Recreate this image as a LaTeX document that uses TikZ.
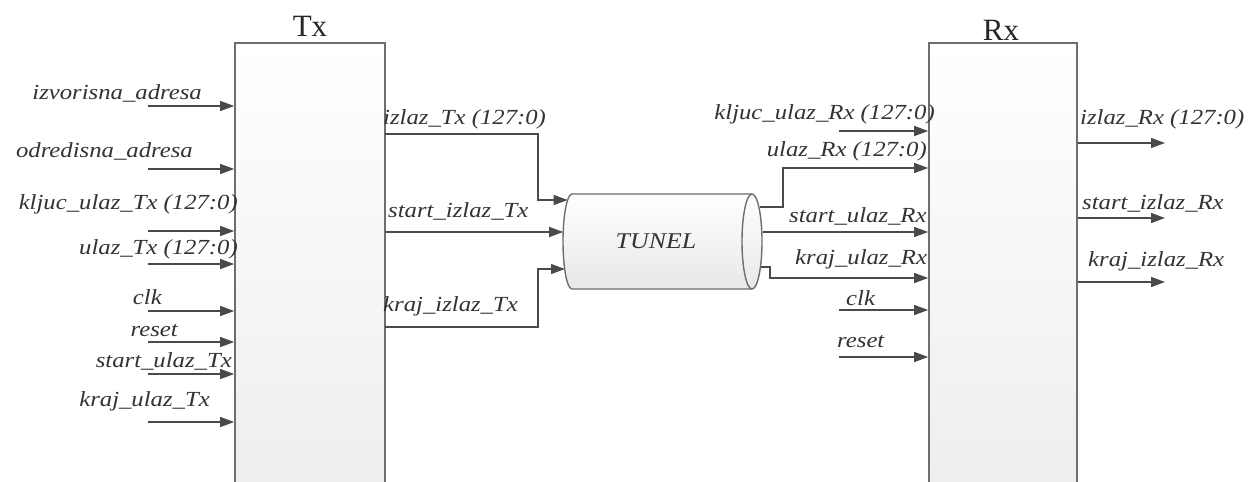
\documentclass[tikz,border=0pt]{standalone}
\usepackage{fontspec}
\setmainfont{Liberation Serif}
\newfontfamily\lblfont[FakeStretch=1.15]{Liberation Serif}
\usetikzlibrary{arrows.meta}
\definecolor{ln}{HTML}{4A4A4A}
\definecolor{bd}{HTML}{6E6E6E}
\definecolor{txt}{HTML}{333333}
\begin{document}
\begin{tikzpicture}[x=1pt,y=-1pt,
  block/.style={draw=bd, line width=1.6pt, top color=white, bottom color=black!7, inner sep=0pt},
  arr/.style={draw=ln, line width=1.3pt, -{Triangle[length=14pt,width=10pt]}},
  lbl/.style={font=\lblfont\itshape\fontsize{21.5}{24}\selectfont, text=txt, inner sep=0pt},
  ttl/.style={font=\fontsize{31}{34}\selectfont, text=black!85, inner sep=0pt},
]
\useasboundingbox (0,0) rectangle (1254,482);
\fill[white] (0,0) rectangle (1254,482);

% blocks
\node[block, minimum width=150pt, minimum height=457pt] (tx) at (310,271.5) {};
\node[block, minimum width=148pt, minimum height=457pt] (rx) at (1003,271.5) {};
\node[ttl, anchor=base] (txt) at (310,36) {Tx};
\node[ttl, anchor=base] (rxt) at (1001,40) {Rx};

% tunnel
\shade[top color=white, bottom color=black!9, draw=bd, line width=1.4pt]
  (572,194) -- (752,194) arc[start angle=90, end angle=-90, x radius=10pt, y radius=47.5pt]
  -- (572,289) arc[start angle=270, end angle=90, x radius=9pt, y radius=47.5pt] -- cycle;
\draw[draw=bd, line width=1.4pt] (752,194) arc[start angle=90, end angle=270, x radius=10pt, y radius=47.5pt];
\node[lbl, font=\lblfont\itshape\fontsize{22.5}{24}\selectfont] (tunel) at (656,241.5) {TUNEL};
\coordinate (tinA) at (567.6,200);
\coordinate (tinB) at (563.2,232);
\coordinate (tinC) at (565,269);
\coordinate (toutA) at (759.6,207);
\coordinate (toutB) at (762.5,232);
\coordinate (toutC) at (761,267);

% Tx inputs
\foreach \n/\y in {a/106, b/169, c/231, d/264, e/311, f/342, g/374, h/422} {
  \coordinate (tin\n) at (148,\y);
  \draw[arr] (tin\n) -- (tin\n -| tx.west);
}
\node[lbl, anchor=base east] (l1) at (202,99) {izvorisna\_adresa};
\node[lbl, anchor=base east] (l2) at (193,157) {odredisna\_adresa};
\node[lbl, anchor=base east] (l3) at (238,209) {kljuc\_ulaz\_Tx (127:0)};
\node[lbl, anchor=base east] (l4) at (238,254) {ulaz\_Tx (127:0)};
\node[lbl, anchor=base east] (l5) at (162,304) {clk};
\node[lbl, anchor=base east] (l6) at (178,336) {reset};
\node[lbl, anchor=base east] (l7) at (232,367) {start\_ulaz\_Tx};
\node[lbl, anchor=base east] (l8) at (210,406) {kraj\_ulaz\_Tx};

% Tx outputs to tunnel
\coordinate (txo1) at (385,134);
\coordinate (txo3) at (385,327);
\draw[arr] (txo1) -- (538,134) -- (538,200) -- (tinA);
\draw[arr] (tinB -| tx.east) -- (tinB);
\draw[arr] (txo3) -- (538,327) -- (538,269) -- (tinC);
\node[lbl, anchor=base west] (l9) at (383,124) {izlaz\_Tx (127:0)};
\node[lbl, anchor=base west] (l10) at (388,217) {start\_izlaz\_Tx};
\node[lbl, anchor=base west] (l11) at (383,311) {kraj\_izlaz\_Tx};

% tunnel to Rx
\draw[arr] (toutA) -- (783,207) -- (783,168) -- (783,168 -| rx.west);
\draw[arr] (toutB) -- (toutB -| rx.west);
\draw[arr] (toutC) -- (770,267) -- (770,278) -- (770,278 -| rx.west);

% other Rx inputs
\foreach \n/\y in {a/131, e/310, f/357} {
  \coordinate (rin\n) at (839,\y);
  \draw[arr] (rin\n) -- (rin\n -| rx.west);
}
\node[lbl, anchor=base east] (r1) at (935,119) {kljuc\_ulaz\_Rx (127:0)};
\node[lbl, anchor=base east] (r2) at (927,156) {ulaz\_Rx (127:0)};
\node[lbl, anchor=base west] (r3) at (789,222) {start\_ulaz\_Rx};
\node[lbl, anchor=base west] (r4) at (795,264) {kraj\_ulaz\_Rx};
\node[lbl, anchor=base west] (r5) at (846,305) {clk};
\node[lbl, anchor=base west] (r6) at (837,347) {reset};

% Rx outputs
\foreach \n/\y in {a/143, b/218, c/282} {
  \coordinate (rout\n) at (1165,\y);
  \draw[arr] (rout\n -| rx.east) -- (rout\n);
}
\node[lbl, anchor=base west] (r7) at (1080,124) {izlaz\_Rx (127:0)};
\node[lbl, anchor=base west] (r8) at (1082,209) {start\_izlaz\_Rx};
\node[lbl, anchor=base west] (r9) at (1088,266) {kraj\_izlaz\_Rx};
\end{tikzpicture}
\end{document}
